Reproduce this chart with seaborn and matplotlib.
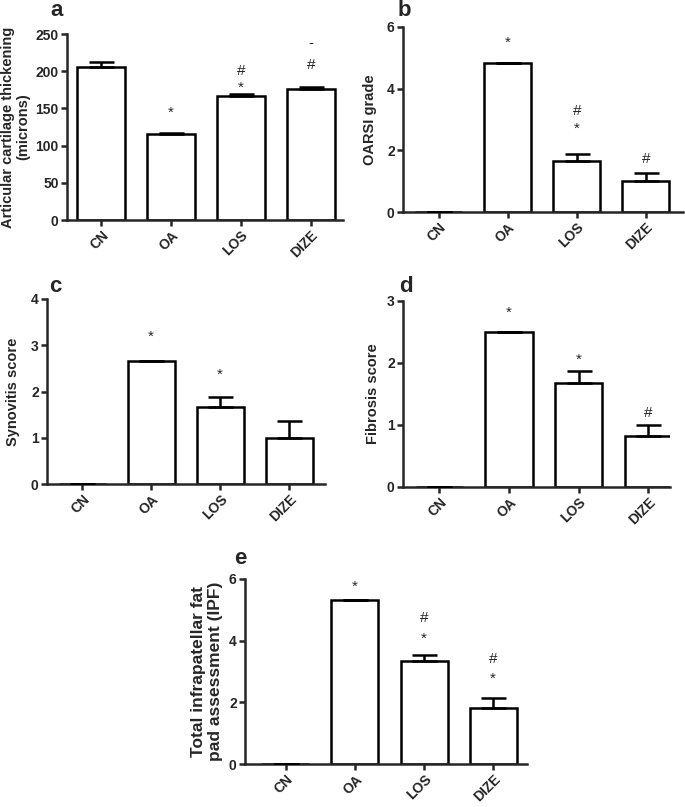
import pandas as pd
import seaborn as sns
import matplotlib.pyplot as plt

groups = ["CN", "OA", "LOS", "DIZE"]

cart_mean = [205, 115.5, 167, 176.5]
cart_sem = [7, 0.8, 2, 2.5]
oarsi_mean = [0, 4.83, 1.67, 1.0]
oarsi_sem = [0, 0, 0.21, 0.26]
syn_mean = [0, 2.67, 1.67, 1.0]
syn_sem = [0, 0, 0.21, 0.36]
fib_mean = [0, 2.5, 1.67, 0.83]
fib_sem = [0, 0, 0.2, 0.17]
ipf_mean = [0, 5.33, 3.33, 1.83]
ipf_sem = [0, 0, 0.2, 0.31]

# significance marks: (group index, y value, symbol)
cart_marks = [(1, 144, "*"), (2, 200, "#"), (2, 178, "*"), (3, 238, "-"), (3, 208, "#")]
oarsi_marks = [(1, 5.48, "*"), (2, 3.27, "#"), (2, 2.70, "*"), (3, 1.72, "#")]
syn_marks = [(1, 3.18, "*"), (2, 2.36, "*")]
fib_marks = [(1, 2.81, "*"), (2, 2.05, "*"), (3, 1.19, "#")]
ipf_marks = [(1, 5.74, "*"), (2, 4.72, "#"), (2, 4.07, "*"), (3, 3.39, "#"), (3, 2.77, "*")]

sns.set_style("ticks")
plt.rcParams["font.family"] = ["Liberation Sans", "DejaVu Sans"]

W, H = 685, 807
fig = plt.figure(figsize=(W / 100, H / 100), dpi=100)


def panel(box, means, sems, marks, ylim, yticks, xlim, ylabel, letter, letter_xy,
          label_x, label_size=10.5):
    l, r, t, b = box
    ax = fig.add_axes([l / W, 1 - b / H, (r - l) / W, (b - t) / H])
    df = pd.DataFrame({"group": groups, "value": means})
    sns.barplot(data=df, x="group", y="value", ax=ax, color="white",
                edgecolor="black", linewidth=1.8, width=0.68, errorbar=None,
                saturation=1)
    zeros = [0] * len(sems)
    ax.errorbar(range(len(groups)), means, yerr=[zeros, sems], fmt="none",
                ecolor="black", elinewidth=1.8, capsize=9, capthick=1.8, zorder=3)
    for i, y, s in marks:
        ax.text(i, y, s, ha="center", va="center", fontsize=11)
    ax.set_ylim(*ylim)
    ax.set_yticks(yticks)
    ax.set_xlim(*xlim)
    ax.set_xlabel("")
    ax.set_ylabel(ylabel, fontsize=label_size, fontweight="bold", va="center",
                  linespacing=1.1)
    ax.yaxis.set_label_coords(label_x, 0.5)
    sns.despine(ax=ax)
    for sp in ["left", "bottom"]:
        ax.spines[sp].set_linewidth(1.8)
    ax.tick_params(width=1.8, length=4, labelsize=10, pad=2)
    for lab in ax.get_yticklabels():
        lab.set_fontweight("bold")
    for lab in ax.get_xticklabels():
        lab.set_fontweight("bold")
        lab.set_rotation(45)
        lab.set_ha("right")
        lab.set_rotation_mode("anchor")
    fig.text(letter_xy[0] / W, 1 - letter_xy[1] / H, letter, fontsize=16,
             fontweight="bold", ha="center", va="center")
    return ax


panel((67, 343, 34, 220), cart_mean, cart_sem, cart_marks, (0, 250),
      [0, 50, 100, 150, 200, 250], (-0.49, 3.46),
      "Articular cartilage thickening\n(microns)", "a", (57, 11), -0.185)
panel((403, 683, 27, 212), oarsi_mean, oarsi_sem, oarsi_marks, (0, 6),
      [0, 2, 4, 6], (-0.52, 3.54), "OARSI grade", "b", (404, 10), -0.118)
panel((47, 325, 299, 484), syn_mean, syn_sem, syn_marks, (0, 4),
      [0, 1, 2, 3, 4], (-0.51, 3.52), "Synovitis score", "c", (55, 286), -0.122)
panel((403, 670, 301, 487), fib_mean, fib_sem, fib_marks, (0, 3),
      [0, 1, 2, 3], (-0.52, 3.31), "Fibrosis score", "d", (406, 286), -0.112)
panel((245, 527, 579, 764), ipf_mean, ipf_sem, ipf_marks, (0, 6),
      [0, 2, 4, 6], (-0.59, 3.49),
      "Total infrapatellar fat\npad assessment (IPF)", "e", (240, 559), -0.135,
      label_size=12.5)

fig.savefig("out.png", dpi=100)
